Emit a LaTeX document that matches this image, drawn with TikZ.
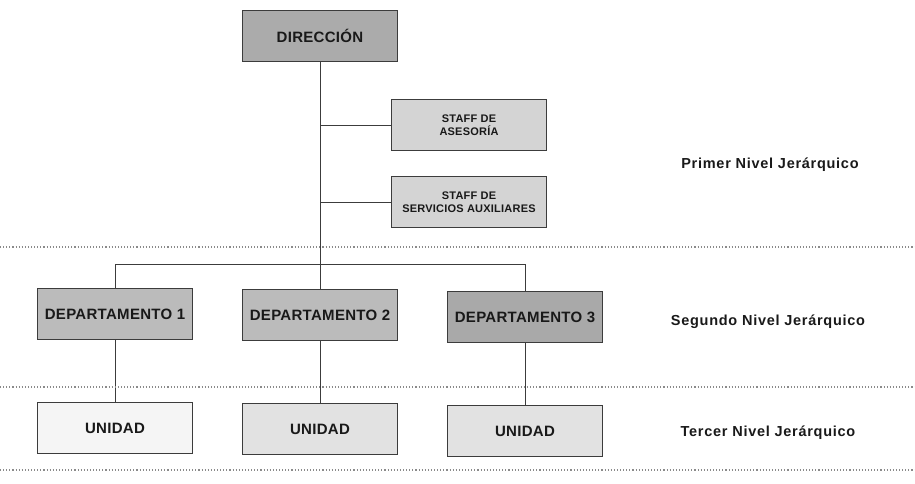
\documentclass[tikz,border=0pt]{standalone}
\usepackage{fontspec}
\setmainfont{Liberation Sans}
\newfontfamily\boxfont[LetterSpace=2]{Liberation Sans}
\newfontfamily\levelfont[LetterSpace=5]{Liberation Sans}
\newfontfamily\stafffont[LetterSpace=2]{Liberation Sans}
\usetikzlibrary{calc}
\definecolor{edge}{HTML}{3C3C3C}
\definecolor{dirfill}{HTML}{ABABAB}
\definecolor{stafffill}{HTML}{D4D4D4}
\definecolor{depfill}{HTML}{BBBBBB}
\definecolor{dep3fill}{HTML}{A9A9A9}
\definecolor{unifill}{HTML}{E2E2E2}
\definecolor{sepline}{HTML}{8A8A8A}

\begin{document}
\begin{tikzpicture}[x=1pt,y=-1pt,
  orgbox/.style={draw=edge,line width=1.3pt,minimum width=155pt,minimum height=51pt,
    inner sep=0pt,font=\boxfont\bfseries\fontsize{15}{17}\selectfont,text=black!90},
  staffbox/.style={orgbox,fill=stafffill,align=center,
    font=\stafffont\bfseries\fontsize{11}{13}\selectfont},
  levelname/.style={font=\levelfont\bfseries\fontsize{14.5}{17}\selectfont,text=black!90},
  link/.style={draw=edge,line width=1pt},
  sep/.style={draw=sepline,line width=1.1pt,dotted}]
\useasboundingbox (0,0) rectangle (915,483);
\node[orgbox,fill=dirfill] (dir) at (320,36) {DIRECCIÓN};
\node[staffbox] (staff1) at (469,125) {STAFF DE\\ASESORÍA};
\node[staffbox] (staff2) at (469,202) {STAFF DE\\SERVICIOS AUXILIARES};
\node[orgbox,fill=depfill] (dep1) at (115,314) {DEPARTAMENTO 1};
\node[orgbox,fill=depfill] (dep2) at (320,315) {DEPARTAMENTO 2};
\node[orgbox,fill=dep3fill] (dep3) at (525,317) {DEPARTAMENTO 3};
\node[orgbox,fill=white!96!black] (uni1) at (115,428) {UNIDAD};
\node[orgbox,fill=unifill] (uni2) at (320,429) {UNIDAD};
\node[orgbox,fill=unifill] (uni3) at (525,431) {UNIDAD};
\node[levelname] (lvl1) at (770,165) {Primer Nivel Jerárquico};
\node[levelname] (lvl2) at (768,322) {Segundo Nivel Jerárquico};
\node[levelname] (lvl3) at (768,433) {Tercer Nivel Jerárquico};
\coordinate (bus) at (320,264);
% trunk, staff and departments
\draw[link] (dir) -- (dep2);
\draw[link] (staff1.west) -- (staff1.west -| dir);
\draw[link] (staff2.west) -- (staff2.west -| dir);
\draw[link] (dep1.north) -- (dep1 |- bus) -- (dep3 |- bus) -- (dep3.north);
\draw[link] (dep1) -- (uni1);
\draw[link] (dep2) -- (uni2);
\draw[link] (dep3) -- (uni3);
% level separators
\draw[sep] (0,247) -- (915,247);
\draw[sep] (0,387) -- (915,387);
\draw[sep] (0,470) -- (915,470);
\end{tikzpicture}
\end{document}
